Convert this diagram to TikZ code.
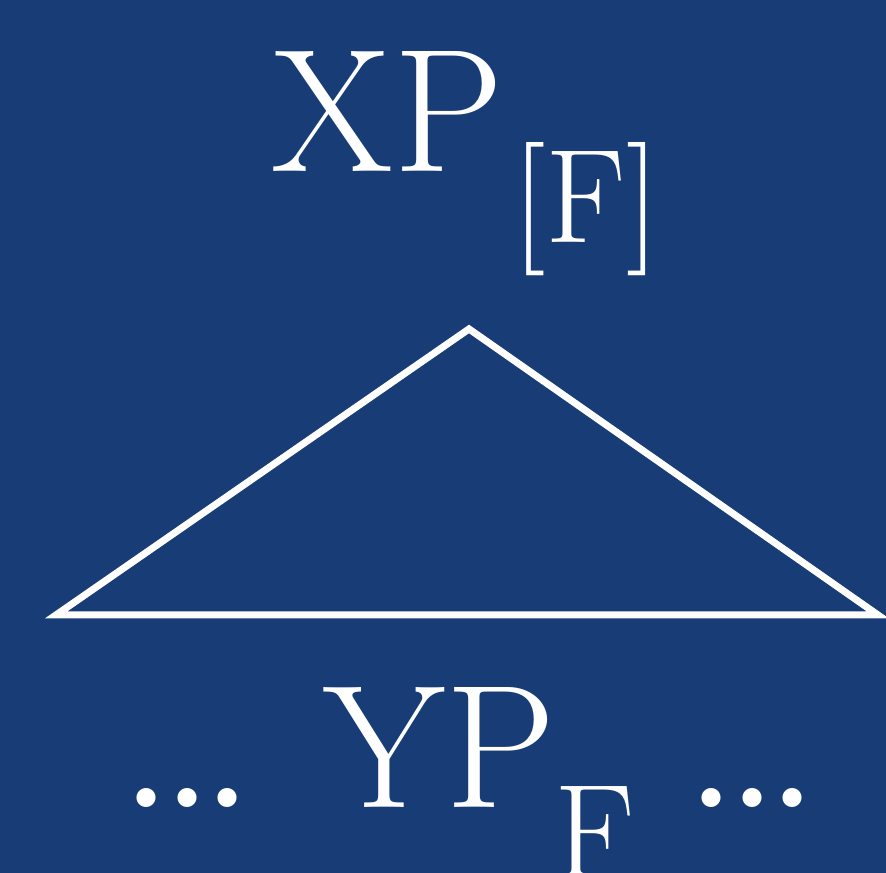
\documentclass[tikz,border=0pt]{standalone}
\usepackage{tikz}
\usetikzlibrary{positioning}
\definecolor{slideblue}{RGB}{23, 60, 118}
\newcommand{\treedots}{.\kern-0.075em.\kern-0.075em.}

\begin{document}
\begin{tikzpicture}[
  every node/.style={text=white, inner sep=0pt, outer sep=0pt},
  cat/.style={font=\fontsize{50}{60}\selectfont, anchor=base},
  feat/.style={font=\fontsize{38}{46}\selectfont, anchor=base},
  gap/.style={font=\fontsize{66}{76}\selectfont, anchor=base},
  tri/.style={draw=white, line width=2pt, line join=miter}
]
  % Background
  \useasboundingbox (0,0) rectangle (8.86,8.73);
  \clip (0,0) rectangle (8.86,8.73);
  \fill[slideblue] (0,0) rectangle (8.86,8.73);

  % Mother node
  \node[cat] (xp) at (3.875, 7.01) {XP};
  \node[feat] (xpf) at (5.86, 6.30) {[F]};

  % Triangle
  \coordinate (apex) at (4.69, 5.44);
  \coordinate (lft) at (0.56, 2.58);
  \coordinate (rgt) at (8.78, 2.58);
  \draw[tri] (apex) -- (lft) -- (rgt) -- cycle;

  % Dominated material
  \node[gap] (ldots) at (1.87, 0.65) {\treedots};
  \node[cat] (yp) at (4.40, 0.65) {YP};
  \node[feat] (ypf) at (5.95, -0.05) {F};
  \node[gap] (rdots) at (7.52, 0.65) {\treedots};
\end{tikzpicture}
\end{document}
